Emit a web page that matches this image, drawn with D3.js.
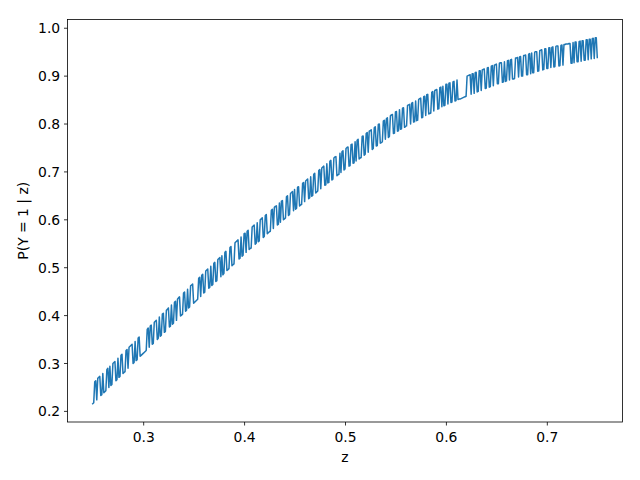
<!DOCTYPE html>
<html>
<head>
<meta charset="utf-8">
<script src="https://cdn.jsdelivr.net/npm/d3@7"></script>
<style>
  html, body { margin: 0; padding: 0; background: #fff; }
  svg { display: block; }
  text { font-family: "DejaVu Sans", sans-serif; fill: #000; }
</style>
</head>
<body>
<svg id="chart" width="640" height="480"></svg>
<script>
// ---- data ----
const zValues = [
  0.250,0.251,0.252,0.253,0.254,0.255,0.256,0.257,0.258,0.259,
  0.260,0.261,0.262,0.263,0.264,0.265,0.266,0.267,0.268,0.269,
  0.270,0.271,0.272,0.273,0.274,0.275,0.276,0.277,0.278,0.279,
  0.280,0.281,0.282,0.283,0.284,0.285,0.286,0.287,0.288,0.289,
  0.290,0.291,0.292,0.293,0.294,0.295,0.296,0.297,0.298,0.299,
  0.300,0.301,0.302,0.303,0.304,0.305,0.306,0.307,0.308,0.309,
  0.310,0.311,0.312,0.313,0.314,0.315,0.316,0.317,0.318,0.319,
  0.320,0.321,0.322,0.323,0.324,0.325,0.326,0.327,0.328,0.329,
  0.330,0.331,0.332,0.333,0.334,0.335,0.336,0.337,0.338,0.339,
  0.340,0.341,0.342,0.343,0.344,0.345,0.346,0.347,0.348,0.349,
  0.350,0.351,0.352,0.353,0.354,0.355,0.356,0.357,0.358,0.359,
  0.360,0.361,0.362,0.363,0.364,0.365,0.366,0.367,0.368,0.369,
  0.370,0.371,0.372,0.373,0.374,0.375,0.376,0.377,0.378,0.379,
  0.380,0.381,0.382,0.383,0.384,0.385,0.386,0.387,0.388,0.389,
  0.390,0.391,0.392,0.393,0.394,0.395,0.396,0.397,0.398,0.399,
  0.400,0.401,0.402,0.403,0.404,0.405,0.406,0.407,0.408,0.409,
  0.410,0.411,0.412,0.413,0.414,0.415,0.416,0.417,0.418,0.419,
  0.420,0.421,0.422,0.423,0.424,0.425,0.426,0.427,0.428,0.429,
  0.430,0.431,0.432,0.433,0.434,0.435,0.436,0.437,0.438,0.439,
  0.440,0.441,0.442,0.443,0.444,0.445,0.446,0.447,0.448,0.449,
  0.450,0.451,0.452,0.453,0.454,0.455,0.456,0.457,0.458,0.459,
  0.460,0.461,0.462,0.463,0.464,0.465,0.466,0.467,0.468,0.469,
  0.470,0.471,0.472,0.473,0.474,0.475,0.476,0.477,0.478,0.479,
  0.480,0.481,0.482,0.483,0.484,0.485,0.486,0.487,0.488,0.489,
  0.490,0.491,0.492,0.493,0.494,0.495,0.496,0.497,0.498,0.499,
  0.500,0.501,0.502,0.503,0.504,0.505,0.506,0.507,0.508,0.509,
  0.510,0.511,0.512,0.513,0.514,0.515,0.516,0.517,0.518,0.519,
  0.520,0.521,0.522,0.523,0.524,0.525,0.526,0.527,0.528,0.529,
  0.530,0.531,0.532,0.533,0.534,0.535,0.536,0.537,0.538,0.539,
  0.540,0.541,0.542,0.543,0.544,0.545,0.546,0.547,0.548,0.549,
  0.550,0.551,0.552,0.553,0.554,0.555,0.556,0.557,0.558,0.559,
  0.560,0.561,0.562,0.563,0.564,0.565,0.566,0.567,0.568,0.569,
  0.570,0.571,0.572,0.573,0.574,0.575,0.576,0.577,0.578,0.579,
  0.580,0.581,0.582,0.583,0.584,0.585,0.586,0.587,0.588,0.589,
  0.590,0.591,0.592,0.593,0.594,0.595,0.596,0.597,0.598,0.599,
  0.600,0.601,0.602,0.603,0.604,0.605,0.606,0.607,0.608,0.609,
  0.610,0.611,0.612,0.613,0.614,0.615,0.616,0.617,0.618,0.619,
  0.620,0.621,0.622,0.623,0.624,0.625,0.626,0.627,0.628,0.629,
  0.630,0.631,0.632,0.633,0.634,0.635,0.636,0.637,0.638,0.639,
  0.640,0.641,0.642,0.643,0.644,0.645,0.646,0.647,0.648,0.649,
  0.650,0.651,0.652,0.653,0.654,0.655,0.656,0.657,0.658,0.659,
  0.660,0.661,0.662,0.663,0.664,0.665,0.666,0.667,0.668,0.669,
  0.670,0.671,0.672,0.673,0.674,0.675,0.676,0.677,0.678,0.679,
  0.680,0.681,0.682,0.683,0.684,0.685,0.686,0.687,0.688,0.689,
  0.690,0.691,0.692,0.693,0.694,0.695,0.696,0.697,0.698,0.699,
  0.700,0.701,0.702,0.703,0.704,0.705,0.706,0.707,0.708,0.709,
  0.710,0.711,0.712,0.713,0.714,0.715,0.716,0.717,0.718,0.719,
  0.720,0.721,0.722,0.723,0.724,0.725,0.726,0.727,0.728,0.729,
  0.730,0.731,0.732,0.733,0.734,0.735,0.736,0.737,0.738,0.739,
  0.740,0.741,0.742,0.743,0.744,0.745,0.746,0.747,0.748,0.749,
  0.750
];
const probValues = [
  0.215,0.217,0.261,0.263,0.223,0.268,0.270,0.272,0.232,0.234,
  0.278,0.238,0.240,0.242,0.286,0.289,0.249,0.293,0.253,0.255,
  0.299,0.301,0.303,0.263,0.265,0.310,0.270,0.272,0.316,0.318,
  0.278,0.280,0.282,0.326,0.328,0.289,0.333,0.335,0.337,0.339,
  0.299,0.301,0.345,0.305,0.307,0.352,0.354,0.314,0.316,0.318,
  0.320,0.322,0.324,0.326,0.370,0.373,0.333,0.377,0.379,0.339,
  0.341,0.385,0.387,0.389,0.349,0.352,0.396,0.356,0.358,0.402,
  0.404,0.364,0.366,0.410,0.412,0.415,0.375,0.377,0.421,0.381,
  0.383,0.427,0.429,0.389,0.433,0.436,0.438,0.398,0.400,0.402,
  0.446,0.448,0.408,0.410,0.454,0.415,0.417,0.461,0.463,0.465,
  0.425,0.427,0.429,0.431,0.433,0.477,0.479,0.439,0.483,0.485,
  0.446,0.448,0.492,0.494,0.496,0.456,0.458,0.502,0.462,0.464,
  0.508,0.510,0.470,0.472,0.516,0.518,0.520,0.480,0.524,0.484,
  0.487,0.531,0.533,0.493,0.495,0.497,0.541,0.543,0.503,0.505,
  0.507,0.551,0.553,0.555,0.557,0.517,0.519,0.563,0.523,0.525,
  0.570,0.571,0.531,0.575,0.577,0.537,0.539,0.540,0.584,0.586,
  0.588,0.548,0.550,0.593,0.553,0.555,0.599,0.601,0.603,0.562,
  0.564,0.608,0.610,0.570,0.572,0.574,0.575,0.619,0.621,0.581,
  0.625,0.627,0.628,0.588,0.590,0.634,0.594,0.638,0.639,0.599,
  0.601,0.603,0.647,0.649,0.608,0.610,0.654,0.656,0.658,0.618,
  0.662,0.621,0.623,0.667,0.668,0.628,0.630,0.631,0.675,0.677,
  0.637,0.680,0.682,0.684,0.643,0.645,0.689,0.648,0.650,0.694,
  0.696,0.655,0.657,0.659,0.702,0.704,0.664,0.707,0.709,0.711,
  0.671,0.672,0.716,0.676,0.677,0.721,0.723,0.682,0.684,0.728,
  0.730,0.731,0.691,0.693,0.694,0.738,0.698,0.741,0.743,0.703,
  0.705,0.748,0.750,0.751,0.711,0.712,0.756,0.757,0.717,0.718,
  0.762,0.722,0.765,0.767,0.726,0.728,0.729,0.773,0.774,0.734,
  0.736,0.779,0.781,0.740,0.784,0.785,0.787,0.746,0.748,0.791,
  0.793,0.753,0.754,0.798,0.799,0.759,0.760,0.762,0.805,0.807,
  0.767,0.810,0.812,0.771,0.773,0.816,0.818,0.819,0.779,0.780,
  0.824,0.825,0.784,0.785,0.829,0.788,0.789,0.832,0.833,0.792,
  0.794,0.795,0.838,0.839,0.840,0.799,0.842,0.844,0.803,0.804,
  0.847,0.806,0.807,0.850,0.852,0.853,0.812,0.813,0.856,0.857,
  0.817,0.860,0.861,0.820,0.821,0.822,0.865,0.867,0.826,0.869,
  0.870,0.871,0.830,0.831,0.875,0.876,0.835,0.878,0.837,0.838,
  0.882,0.882,0.841,0.884,0.885,0.844,0.845,0.887,0.888,0.847,
  0.848,0.891,0.850,0.851,0.851,0.852,0.853,0.854,0.855,0.856,
  0.857,0.899,0.900,0.901,0.902,0.861,0.904,0.904,0.863,0.906,
  0.907,0.866,0.867,0.910,0.910,0.869,0.912,0.913,0.914,0.873,
  0.874,0.916,0.917,0.876,0.877,0.920,0.921,0.879,0.922,0.923,
  0.924,0.883,0.883,0.926,0.927,0.927,0.886,0.887,0.929,0.888,
  0.889,0.931,0.932,0.891,0.933,0.934,0.893,0.893,0.894,0.937,
  0.937,0.938,0.897,0.939,0.940,0.899,0.899,0.942,0.942,0.943,
  0.902,0.902,0.945,0.946,0.904,0.947,0.906,0.906,0.949,0.950,
  0.950,0.909,0.910,0.952,0.953,0.954,0.912,0.913,0.956,0.956,
  0.915,0.915,0.958,0.958,0.917,0.959,0.960,0.918,0.919,0.961,
  0.962,0.962,0.920,0.921,0.963,0.964,0.922,0.965,0.965,0.966,
  0.966,0.966,0.967,0.967,0.926,0.926,0.969,0.927,0.970,0.970,
  0.929,0.929,0.971,0.972,0.930,0.973,0.973,0.932,0.932,0.975,
  0.975,0.933,0.976,0.976,0.935,0.977,0.978,0.936,0.979,0.979,
  0.938
];
const xTicks = [0.3, 0.4, 0.5, 0.6, 0.7];
const yTicks = [0.2, 0.3, 0.4, 0.5, 0.6, 0.7, 0.8, 0.9, 1.0];
const xLabel = "z";
const yLabel = "P(Y = 1 | z)";

// ---- layout ----
const svg = d3.select("#chart");
const plot = { left: 67.5, top: 19.5, right: 622.5, bottom: 422 };

function padded(ext) {
  const m = (ext[1] - ext[0]) * 0.05;
  return [ext[0] - m, ext[1] + m];
}
const x = d3.scaleLinear().domain(padded(d3.extent(zValues))).range([plot.left, plot.right]);
const y = d3.scaleLinear().domain(padded(d3.extent(probValues))).range([plot.bottom, plot.top]);

const data = zValues.map((z, i) => ({ z, p: probValues[i] }));

// line
svg.append("path")
  .datum(data)
  .attr("fill", "none")
  .attr("stroke", "#1f77b4")
  .attr("stroke-width", 1.5)
  .attr("stroke-linejoin", "round")
  .attr("stroke-linecap", "square")
  .attr("d", d3.line().x(d => x(d.z)).y(d => y(d.p)));

// axes
const fmt = d3.format(".1f");
const xAxis = svg.append("g")
  .attr("transform", `translate(0,${plot.bottom})`)
  .call(d3.axisBottom(x).tickValues(xTicks).tickFormat(fmt).tickSizeOuter(0).tickSize(3.5).tickPadding(3.5));
const yAxis = svg.append("g")
  .attr("transform", `translate(${plot.left},0)`)
  .call(d3.axisLeft(y).tickValues(yTicks).tickFormat(fmt).tickSizeOuter(0).tickSize(3.5).tickPadding(3.5));

[xAxis, yAxis].forEach(g => {
  g.select(".domain").remove();
  g.selectAll(".tick line").attr("stroke", "#000").attr("stroke-width", 0.8);
  g.selectAll(".tick text")
    .attr("font-family", "DejaVu Sans, sans-serif")
    .attr("font-size", "13.9px")
    .attr("fill", "#000");
});
xAxis.selectAll(".tick text").attr("dy", null).attr("y", 19.7);
yAxis.selectAll(".tick text").attr("dy", "0.36em").attr("x", -7.3);

// frame (spines)
svg.append("rect")
  .attr("x", plot.left)
  .attr("y", plot.top)
  .attr("width", plot.right - plot.left)
  .attr("height", plot.bottom - plot.top)
  .attr("fill", "none")
  .attr("stroke", "#000")
  .attr("stroke-width", 0.8);

// axis labels
svg.append("text")
  .attr("x", (plot.left + plot.right) / 2)
  .attr("y", 461.5)
  .attr("text-anchor", "middle")
  .attr("font-size", "13.9px")
  .text(xLabel);

svg.append("text")
  .attr("transform", `translate(28,${(plot.top + plot.bottom) / 2}) rotate(-90)`)
  .attr("text-anchor", "middle")
  .attr("font-size", "13.9px")
  .text(yLabel);
</script>
</body>
</html>
